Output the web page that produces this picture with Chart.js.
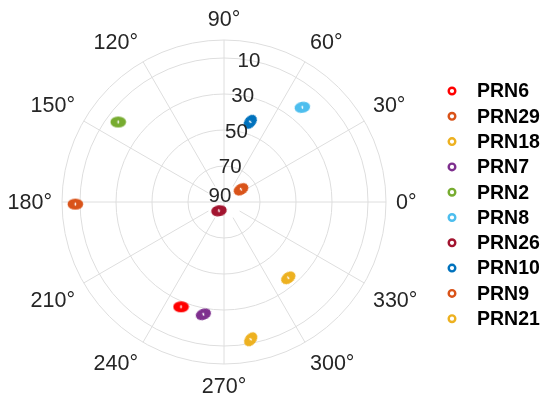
<!DOCTYPE html>
<html>
<head>
<meta charset="UTF-8">
<title>Sky plot</title>
<script src="https://cdn.jsdelivr.net/npm/chart.js"></script>
<style>
  html, body { margin: 0; padding: 0; background: #fff; }
  #wrap { width: 550px; height: 406px; position: relative; }
</style>
</head>
<body>
<div id="wrap"><canvas id="sky"></canvas></div>
<script>
// satellites: azimuth (deg, ccw from east) and elevation (deg)
const prnNames   = ['PRN6', 'PRN29', 'PRN18', 'PRN7', 'PRN2', 'PRN8', 'PRN26', 'PRN10', 'PRN9', 'PRN21'];
const azimuths   = [247.7, 36.8, 310.3, 259.6, 142.9, 50.4, 240.0, 71.9, 180.8, 281.0];
const elevations = [27.1, 78.2, 34.8, 26.6, 16.3, 21.7, 84.4, 43.1, 7.4, 12.3];
const prnColors  = ['#FF0000', '#D95319', '#EDB120', '#7E2F8E', '#77AC30', '#4DBEEE', '#A2142F', '#0072BD', '#D95319', '#EDB120'];
// direction of each little track (marker tilt, degrees clockwise)
const trackTilt  = [0, -30, -35, -20, 0, -10, -10, -50, 0, -50];

// axis ticks
const thetaTicks = [0, 30, 60, 90, 120, 150, 180, 210, 240, 270, 300, 330];
const elevTicks  = [10, 30, 50, 70, 90];

const FONT = '"Liberation Sans", Arial, sans-serif';
const GRID = '#dedede';
const TEXT = '#262626';

// elevation -> radius in data units (90 at centre, 0 at rim)
function toXY(az, el) {
    const r = 90 - el;
    const a = az * Math.PI / 180;
    return { x: r * Math.cos(a), y: r * Math.sin(a) };
}

// blob-like marker (a cluster of overlapping circles)
function makeMarker(color) {
    const c = document.createElement('canvas');
    c.width = 17;
    c.height = 13;
    const g = c.getContext('2d');
    g.fillStyle = color;
    g.beginPath();
    g.ellipse(8.5, 6.5, 7.8, 5.6, 0, 0, Math.PI * 2);
    g.fill();
    g.fillStyle = '#ffffff';
    g.beginPath();
    g.ellipse(8.5, 6.5, 0.8, 1.8, 0, 0, Math.PI * 2);
    g.fill();
    return c;
}

const datasets = prnNames.map(function(name, i) {
    return {
        label: name,
        data: [toXY(azimuths[i], elevations[i])],
        pointStyle: makeMarker(prnColors[i]),
        pointRotation: trackTilt[i],
        borderColor: prnColors[i],
        backgroundColor: prnColors[i]
    };
});

// polar grid, labels and legend
const polarPlugin = {
    id: 'polarGrid',
    beforeDatasetsDraw(chart) {
        const ctx = chart.ctx;
        const xs = chart.scales.x, ys = chart.scales.y;
        const cx = xs.getPixelForValue(0), cy = ys.getPixelForValue(0);
        const unit = xs.getPixelForValue(1) - cx;
        const R = 90 * unit;
        ctx.save();
        ctx.strokeStyle = GRID;
        ctx.lineWidth = 1;
        // rings
        elevTicks.concat([0]).forEach(function(el) {
            const r = (90 - el) * unit;
            if (r <= 0) return;
            ctx.beginPath();
            ctx.arc(cx, cy, r, 0, Math.PI * 2);
            ctx.stroke();
        });
        // spokes
        thetaTicks.forEach(function(t) {
            const a = t * Math.PI / 180;
            const r0 = (t % 90 === 0) ? 0 : 18;
            ctx.beginPath();
            ctx.moveTo(cx + r0 * Math.cos(a), cy - r0 * Math.sin(a));
            ctx.lineTo(cx + R * Math.cos(a), cy - R * Math.sin(a));
            ctx.stroke();
        });
        ctx.restore();
    },
    afterDatasetsDraw(chart) {
        const ctx = chart.ctx;
        const xs = chart.scales.x, ys = chart.scales.y;
        const cx = xs.getPixelForValue(0), cy = ys.getPixelForValue(0);
        const unit = xs.getPixelForValue(1) - cx;
        const R = 90 * unit;
        ctx.save();
        ctx.fillStyle = TEXT;

        // theta labels, anchored just outside the rim
        ctx.font = '21.5px ' + FONT;
        thetaTicks.forEach(function(t) {
            const a = t * Math.PI / 180;
            const c = Math.cos(a), s = Math.sin(a);
            const x = cx + (R + 10) * c, y = cy - (R + 10) * s;
            ctx.textAlign = c > 0.01 ? 'left' : (c < -0.01 ? 'right' : 'center');
            let dy = 1;
            if (s > 0.01) { ctx.textBaseline = 'bottom'; dy = 1; }
            else if (s < -0.01) { ctx.textBaseline = 'top'; dy = 2; }
            else { ctx.textBaseline = 'middle'; dy = 1; }
            ctx.fillText(t + '°', x, y + dy);
        });

        // elevation labels along 80 deg
        ctx.font = '20.5px ' + FONT;
        ctx.textAlign = 'center';
        ctx.textBaseline = 'middle';
        const ra = 80 * Math.PI / 180;
        elevTicks.forEach(function(el) {
            const r = (90 - el) * unit;
            let x = cx + r * Math.cos(ra), y = cy - r * Math.sin(ra);
            if (r === 0) { x -= 4; y -= 7; }
            ctx.fillText(String(el), x, y + 1);
        });

        // legend
        ctx.textAlign = 'left';
        ctx.font = 'bold 19.5px ' + FONT;
        ctx.fillStyle = '#000000';
        prnNames.forEach(function(name, i) {
            const y = 91 + i * 25.3;
            ctx.beginPath();
            ctx.arc(452, y, 3.3, 0, Math.PI * 2);
            ctx.lineWidth = 2.4;
            ctx.strokeStyle = prnColors[i];
            ctx.stroke();
            ctx.fillText(name, 477, y + 1);
        });
        ctx.restore();
    }
};

new Chart(document.getElementById('sky'), {
    type: 'scatter',
    data: { datasets: datasets },
    options: {
        responsive: true,
        maintainAspectRatio: false,
        animation: false,
        layout: { padding: { left: 62, right: 164, top: 40, bottom: 42 } },
        plugins: {
            legend: { display: false },
            tooltip: { enabled: false }
        },
        scales: {
            x: { type: 'linear', min: -90, max: 90, display: false },
            y: { type: 'linear', min: -90, max: 90, display: false }
        }
    },
    plugins: [polarPlugin]
});
</script>
</body>
</html>
